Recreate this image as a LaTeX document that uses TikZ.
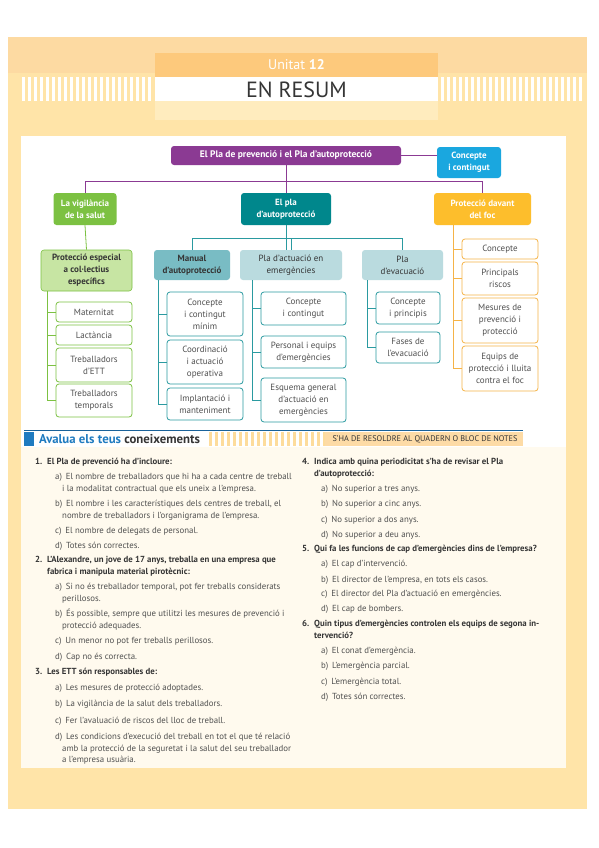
\documentclass[tikz,border=0pt]{standalone}
\usepackage{fontspec}
\setmainfont{PT Sans}
\definecolor{pageor}{HTML}{FFE4A8}
\definecolor{pagetop}{HTML}{FDDAA2}
\definecolor{hdrband}{HTML}{FDC97C}
\definecolor{hdrlight}{HTML}{FFECBE}
\definecolor{stripeor}{HTML}{FDDC9C}
\definecolor{cream}{HTML}{FFFAEE}
\definecolor{cpurple}{HTML}{8B3A93}
\definecolor{ccyan}{HTML}{1AA7DF}
\definecolor{cgreen}{HTML}{7CC142}
\definecolor{cteal}{HTML}{00878C}
\definecolor{camber}{HTML}{FDBE2C}
\definecolor{clgreen}{HTML}{C7E5A3}
\definecolor{ctealmid}{HTML}{79BCC4}
\definecolor{cteallight}{HTML}{BADBDF}
\definecolor{tline}{HTML}{2A9AA0}
\definecolor{oline}{HTML}{F5B347}
\definecolor{txtgray}{HTML}{505050}
\definecolor{txtdark}{HTML}{353535}
\definecolor{avblue}{HTML}{1F7BC0}
\definecolor{bandor}{HTML}{FDDBA6}
\newcommand\boxfont{\fontsize{9}{12}\selectfont}
\newcommand\qfont{\fontsize{8.8}{10}\selectfont}
\newcounter{qc}
\newcommand\qline[3]{\stepcounter{qc}\edef\qname{q\arabic{qc}}\node[qtxt] (\qname) at (#1,#2) {#3};}
\newcommand\qbold[3]{\stepcounter{qc}\edef\qname{q\arabic{qc}}\node[qtxt,font=\qfont\bfseries,text=txtdark] (\qname) at (#1,#2) {#3};}
\begin{document}
\begin{tikzpicture}[x=1pt,y=-1pt,
  box/.style={rounded corners=3pt, align=center, inner sep=0pt, font=\boxfont},
  mainbox/.style={box, text=white, font=\boxfont\bfseries},
  subbox/.style={box, text=txtdark, font=\boxfont\bfseries},
  child/.style={box, fill=white, text=txtgray, line width=0.8pt},
  pline/.style={draw=cpurple, line width=0.8pt},
  gline/.style={draw=cgreen, line width=0.8pt},
  tconn/.style={draw=tline, line width=0.8pt},
  oconn/.style={draw=oline, line width=0.8pt},
  qtxt/.style={anchor=base west, inner sep=0pt, font=\qfont, text=txtgray}]
\useasboundingbox (0,0) rectangle (599,848);
\fill[white] (0,0) rectangle (599,848);
% page
\fill[pageor] (8,37) rectangle (587,809);
\fill[pagetop] (8,37) rectangle (587,73);
\foreach \i in {0,...,21} \fill[white] (22+\i*6,77) rectangle (25+\i*6,101);
\foreach \i in {0,...,23} \fill[white] (441+\i*6,77) rectangle (444+\i*6,101);
\fill[hdrband] (155,53) rectangle (438,77);
\fill[white] (155,77) rectangle (438,101);
\fill[hdrlight] (155,101) rectangle (438,120);
\node[text=white, font=\fontsize{14}{15}\selectfont] (unit) at (296.5,65) {Unitat \textbf{12}};
\node[text=txtdark, font=\fontsize{22}{24}\selectfont] (resum) at (296.5,89.5) {EN RESUM};
% panels
\fill[white] (21,136) rectangle (566,447);
\fill[cream] (21,447) rectangle (566,768);
% concept map
\node[mainbox, fill=cpurple, minimum width=230, minimum height=19, font=\fontsize{9.5}{12}\selectfont\bfseries] (top) at (286,155.5) {El Pla de prevenció i el Pla d'autoprotecció};
\node[mainbox, fill=ccyan, minimum width=64, minimum height=31] (conc) at (469,162.5) {Concepte\\i contingut};
\node[mainbox, fill=cgreen, minimum width=63, minimum height=32] (vig) at (85,209) {La vigilància\\de la salut};
\node[mainbox, fill=cteal, minimum width=90, minimum height=32] (el) at (286,209) {El pla\\d'autoprotecció};
\node[mainbox, fill=camber, minimum width=97, minimum height=32] (foc) at (482.5,209) {Protecció davant\\del foc};
\draw[pline] (top.east) -- (top.east -| conc.west);
\draw[pline] (top.south) -- (el.north);
\draw[pline] (vig.north) -- ++(0,-11) -| (foc.north);
% green branch
\node[subbox, fill=clgreen, draw=cgreen, line width=0.6pt, minimum width=91, minimum height=41] (esp) at (86.5,270.5) {Protecció especial\\a col·lectius\\específics};
\draw[gline] (vig.south) -- (esp.north);
\node[child, draw=cgreen, minimum width=76, minimum height=20] (mat) at (94,312) {Maternitat};
\node[child, draw=cgreen, minimum width=76, minimum height=20] (lac) at (94,335) {Lactància};
\node[child, draw=cgreen, minimum width=76, minimum height=34] (ett) at (94,365) {Treballadors\\d'ETT};
\node[child, draw=cgreen, minimum width=76, minimum height=33] (tmp) at (94,400.5) {Treballadors\\temporals};
\coordinate (gv) at (47,291);
\draw[gline] (gv) |- (mat.west);
\draw[gline] (gv) |- (lac.west);
\draw[gline] (gv) |- (ett.west);
\draw[gline] (gv) |- (tmp.west);
% teal branch
\node[subbox, fill=ctealmid, minimum width=76, minimum height=30] (man) at (192,265) {Manual\\d'autoprotecció};
\node[box, fill=cteallight, text=txtdark, minimum width=102, minimum height=30] (act) at (291,265) {Pla d'actuació en\\emergències};
\node[box, fill=cteallight, text=txtdark, minimum width=81, minimum height=30] (evac) at (402.5,265) {Pla\\d'evacuació};
\draw[tconn] (el.south) -- (el.south |- act.north);
\draw[tconn] (man.north) -- ++(0,-11) -| (evac.north);
\draw[tconn] (act.north) -- ++(0,-11);
\node[child, draw=tline, minimum width=76, minimum height=44] (m1) at (205,314) {Concepte\\i contingut\\mínim};
\node[child, draw=tline, minimum width=76, minimum height=44] (m2) at (205,362) {Coordinació\\i actuació\\operativa};
\node[child, draw=tline, minimum width=76, minimum height=32] (m3) at (205,404) {Implantació i\\manteniment};
\coordinate (mv) at (158,280);
\draw[tconn] (mv) |- (m1.west);
\draw[tconn] (mv) |- (m2.west);
\draw[tconn] (mv) |- (m3.west);
\node[child, draw=tline, minimum width=85, minimum height=33] (a1) at (303.5,308.5) {Concepte\\i contingut};
\node[child, draw=tline, minimum width=85, minimum height=32] (a2) at (303.5,352) {Personal i equips\\d'emergències};
\node[child, draw=tline, minimum width=85, minimum height=44] (a3) at (303.5,400) {Esquema general\\d'actuació en\\emergències};
\coordinate (av) at (252,280);
\draw[tconn] (av) |- (a1.west);
\draw[tconn] (av) |- (a2.west);
\draw[tconn] (av) |- (a3.west);
\node[child, draw=tline, minimum width=64, minimum height=32] (e1) at (408,308) {Concepte\\i principis};
\node[child, draw=tline, minimum width=64, minimum height=31] (e2) at (408,347.5) {Fases de\\l'evacuació};
\coordinate (ev) at (367,280);
\draw[tconn] (ev) |- (e1.west);
\draw[tconn] (ev) |- (e2.west);
% amber branch
\node[child, draw=oline, minimum width=76, minimum height=20] (f1) at (500,249) {Concepte};
\node[child, draw=oline, minimum width=76, minimum height=33] (f2) at (500,278.5) {Principals\\riscos};
\node[child, draw=oline, minimum width=76, minimum height=45] (f3) at (500,320.5) {Mesures de\\prevenció i\\protecció};
\node[child, draw=oline, minimum width=76, minimum height=45] (f4) at (500,368.5) {Equips de\\protecció i lluita\\contra el foc};
\coordinate (fv) at (453,225);
\draw[oconn] (fv) |- (f1.west);
\draw[oconn] (fv) |- (f2.west);
\draw[oconn] (fv) |- (f3.west);
\draw[oconn] (fv) |- (f4.west);
% avalua bar
\draw[avblue!80!black, line width=0.6pt] (24,430) -- (523,430);
\fill[avblue] (24,431.5) rectangle (34,446);
\foreach \i in {0,...,19} \fill[stripeor] (209+\i*6,431.5) rectangle (212+\i*6,446);
\fill[bandor] (325,431.5) rectangle (523,446);
\node[anchor=west, inner sep=0pt, font=\fontsize{12.8}{13}\selectfont\bfseries, text=txtdark] (aval) at (39,439) {\textcolor{avblue}{Avalua els teus} coneixements};
\node[inner sep=0pt, font=\fontsize{8.2}{9}\selectfont, text=txtdark] (resol) at (425,439) {S'HA DE RESOLDRE AL QUADERN O BLOC DE NOTES};
% questions left
\qbold{35}{464}{\makebox[12pt][l]{1.}El Pla de prevenció ha d'incloure:}
\qline{55}{479}{a)\, El nombre de treballadors que hi ha a cada centre de treball}
\qline{62}{491}{i la modalitat contractual que els uneix a l'empresa.}
\qline{55}{506}{b)\, El nombre i les característiques dels centres de treball, el}
\qline{62}{518}{nombre de treballadors i l'organigrama de l'empresa.}
\qline{55}{533}{c)\, El nombre de delegats de personal.}
\qline{55}{548}{d)\, Totes són correctes.}
\qbold{35}{562}{\makebox[12pt][l]{2.}L'Alexandre, un jove de 17 anys, treballa en una empresa que}
\qbold{47}{574}{fabrica i manipula material pirotècnic:}
\qline{55}{589}{a)\, Si no és treballador temporal, pot fer treballs considerats}
\qline{62}{601}{perillosos.}
\qline{55}{616}{b)\, És possible, sempre que utilitzi les mesures de prevenció i}
\qline{62}{628}{protecció adequades.}
\qline{55}{643}{c)\, Un menor no pot fer treballs perillosos.}
\qline{55}{659}{d)\, Cap no és correcta.}
\qbold{35}{674}{\makebox[12pt][l]{3.}Les ETT són responsables de:}
\qline{55}{690}{a)\, Les mesures de protecció adoptades.}
\qline{55}{706}{b)\, La vigilància de la salut dels treballadors.}
\qline{55}{723}{c)\, Fer l'avaluació de riscos del lloc de treball.}
\qline{55}{739}{d)\, Les condicions d'execució del treball en tot el que té relació}
\qline{62}{751}{amb la protecció de la seguretat i la salut del seu treballador}
\qline{62}{762}{a l'empresa usuària.}
% questions right
\qbold{302}{464}{\makebox[12pt][l]{4.}Indica amb quina periodicitat s'ha de revisar el Pla}
\qbold{314}{476}{d'autoprotecció:}
\qline{321}{491}{a)\, No superior a tres anys.}
\qline{321}{506}{b)\, No superior a cinc anys.}
\qline{321}{522}{c)\, No superior a dos anys.}
\qline{321}{537}{d)\, No superior a deu anys.}
\qbold{302}{551}{\makebox[12pt][l]{5.}Qui fa les funcions de cap d'emergències dins de l'empresa?}
\qline{321}{566}{a)\, El cap d'intervenció.}
\qline{321}{582}{b)\, El director de l'empresa, en tots els casos.}
\qline{321}{596}{c)\, El director del Pla d'actuació en emergències.}
\qline{321}{611}{d)\, El cap de bombers.}
\qbold{302}{626}{\makebox[12pt][l]{6.}Quin tipus d'emergències controlen els equips de segona in-}
\qbold{314}{638}{tervenció?}
\qline{321}{653}{a)\, El conat d'emergència.}
\qline{321}{668}{b)\, L'emergència parcial.}
\qline{321}{684}{c)\, L'emergència total.}
\qline{321}{699}{d)\, Totes són correctes.}
\end{tikzpicture}
\end{document}
